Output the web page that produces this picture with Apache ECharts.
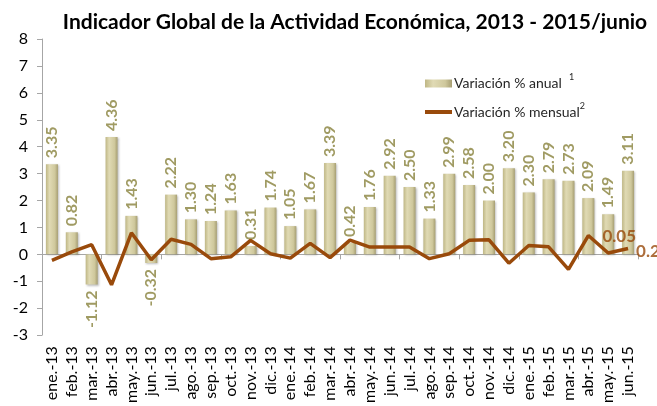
<!DOCTYPE html>
<html>
<head>
<meta charset="utf-8">
<script src="https://cdn.jsdelivr.net/npm/echarts@6/dist/echarts.min.js"></script>
<style>
  html, body { margin: 0; padding: 0; background: #fff; }
  #grafico { width: 657px; height: 406px; }
</style>
</head>
<body>
<div id="grafico"></div>
<script>
// datos
const meses = ["ene.-13", "feb.-13", "mar.-13", "abr.-13", "may.-13", "jun.-13", "jul.-13", "ago.-13", "sep.-13", "oct.-13", "nov.-13", "dic.-13",
  "ene.-14", "feb.-14", "mar.-14", "abr.-14", "may.-14", "jun.-14", "jul.-14", "ago.-14", "sep.-14", "oct.-14", "nov.-14", "dic.-14",
  "ene.-15", "feb.-15", "mar.-15", "abr.-15", "may.-15", "jun.-15"];
const anual = [3.35, 0.82, -1.12, 4.36, 1.43, -0.32, 2.22, 1.30, 1.24, 1.63, 0.31, 1.74,
  1.05, 1.67, 3.39, 0.42, 1.76, 2.92, 2.50, 1.33, 2.99, 2.58, 2.00, 3.20,
  2.30, 2.79, 2.73, 2.09, 1.49, 3.11];
const mensual = [-0.22, 0.09, 0.36, -1.13, 0.80, -0.20, 0.56, 0.37, -0.16, -0.09, 0.52, 0.02,
  -0.14, 0.41, -0.12, 0.53, 0.27, 0.27, 0.27, -0.16, 0.02, 0.52, 0.54, -0.33,
  0.33, 0.28, -0.56, 0.70, 0.05, 0.22];

const fuente = "Lato, 'Noto Sans', sans-serif";
const colorBarraTxt = "#a09b63";
const colorLinea = "#994a0b";

const datosBarras = anual.map(v => ({
  value: v,
  label: v < 0
    ? { position: "bottom", align: "right", distance: 6 }
    : { position: "top", align: "left", distance: 6 }
}));

// etiquetas solo para los dos últimos meses
const n = mensual.length;
const etiquetasLinea = mensual.map((v, i) => {
  if (i === n - 2) {
    return { value: v, label: { show: true, position: "top", distance: 8, offset: [11, 0] } };
  }
  if (i === n - 1) {
    return { value: v, label: { show: true, position: "right", distance: 8, offset: [0, 3] } };
  }
  return null;
});

let options = {
  animation: false,
  textStyle: { fontFamily: fuente },
  title: {
    text: "Indicador Global de la Actividad Económica, 2013 - 2015/junio",
    left: 350,
    textAlign: "center",
    top: 7,
    textStyle: { fontFamily: fuente, fontSize: 21, fontWeight: "bold", color: "#000" }
  },
  legend: {
    orient: "vertical",
    left: 425,
    top: 73,
    padding: 0,
    itemGap: 11,
    itemWidth: 27,
    itemHeight: 8,
    symbolKeepAspect: true,
    textStyle: {
      fontFamily: fuente, fontSize: 14, color: "#262626", padding: [0, 0, 0, -3],
      rich: {
        sup: { fontSize: 9, color: "#262626", padding: [0, 0, 12, 0] }
      }
    },
    formatter: name => name === "Variación % anual" ? name + "  {sup|1}" : name + "{sup|2}",
    data: [
      { name: "Variación % anual", icon: "rect" },
      { name: "Variación % mensual", icon: "path://M0,0h27v4h-27z", itemStyle: { color: colorLinea } }
    ]
  },
  grid: { left: 42, right: 19, top: 39, bottom: 70 },
  xAxis: [
    {
      type: "category",
      data: meses,
      axisLine: { onZero: true, lineStyle: { color: "#a6a6a6", width: 1 } },
      axisTick: { show: true, length: 5, lineStyle: { color: "#a6a6a6" } },
      axisLabel: { show: false }
    },
    {
      type: "category",
      data: meses,
      position: "bottom",
      axisLine: { show: false, onZero: false },
      axisTick: { show: false },
      axisLabel: { rotate: 90, margin: 11, fontSize: 16, color: "#000", fontFamily: fuente, interval: 0 }
    }
  ],
  yAxis: {
    type: "value",
    min: -3,
    max: 8,
    interval: 1,
    axisLine: { show: true, lineStyle: { color: "#a6a6a6" } },
    axisTick: { show: true, length: 5, lineStyle: { color: "#a6a6a6" } },
    splitLine: { show: false },
    axisLabel: { fontSize: 16, color: "#000", margin: 14, fontFamily: fuente }
  },
  series: [
    {
      name: "Variación % anual",
      type: "bar",
      xAxisIndex: 0,
      barWidth: 12,
      itemStyle: {
        color: new echarts.graphic.LinearGradient(0, 0, 1, 0, [
          { offset: 0, color: "#bfb785" },
          { offset: 0.3, color: "#e0dab4" },
          { offset: 0.75, color: "#cfc89c" },
          { offset: 1, color: "#a69e72" }
        ]),
        shadowColor: "rgba(0,0,0,0.25)",
        shadowBlur: 2,
        shadowOffsetX: 1,
        shadowOffsetY: 1
      },
      label: {
        show: true,
        rotate: 90,
        verticalAlign: "middle",
        fontSize: 16,
        fontWeight: "bold",
        color: colorBarraTxt,
        fontFamily: fuente,
        formatter: p => p.value.toFixed(2)
      },
      data: datosBarras
    },
    {
      name: "Variación % mensual",
      type: "line",
      xAxisIndex: 0,
      symbol: "none",
      lineStyle: { color: colorLinea, width: 3.5 },
      itemStyle: { color: colorLinea },
      data: mensual
    },
    {
      name: "etiquetas",
      type: "scatter",
      xAxisIndex: 0,
      symbolSize: 0,
      silent: true,
      label: {
        show: false,
        fontSize: 17,
        fontWeight: "bold",
        color: colorLinea,
        fontFamily: fuente,
        formatter: p => p.value.toFixed(2)
      },
      data: etiquetasLinea
    }
  ]
};

let grafico = echarts.init(document.getElementById("grafico"));
grafico.setOption(options);
</script>
</body>
</html>
